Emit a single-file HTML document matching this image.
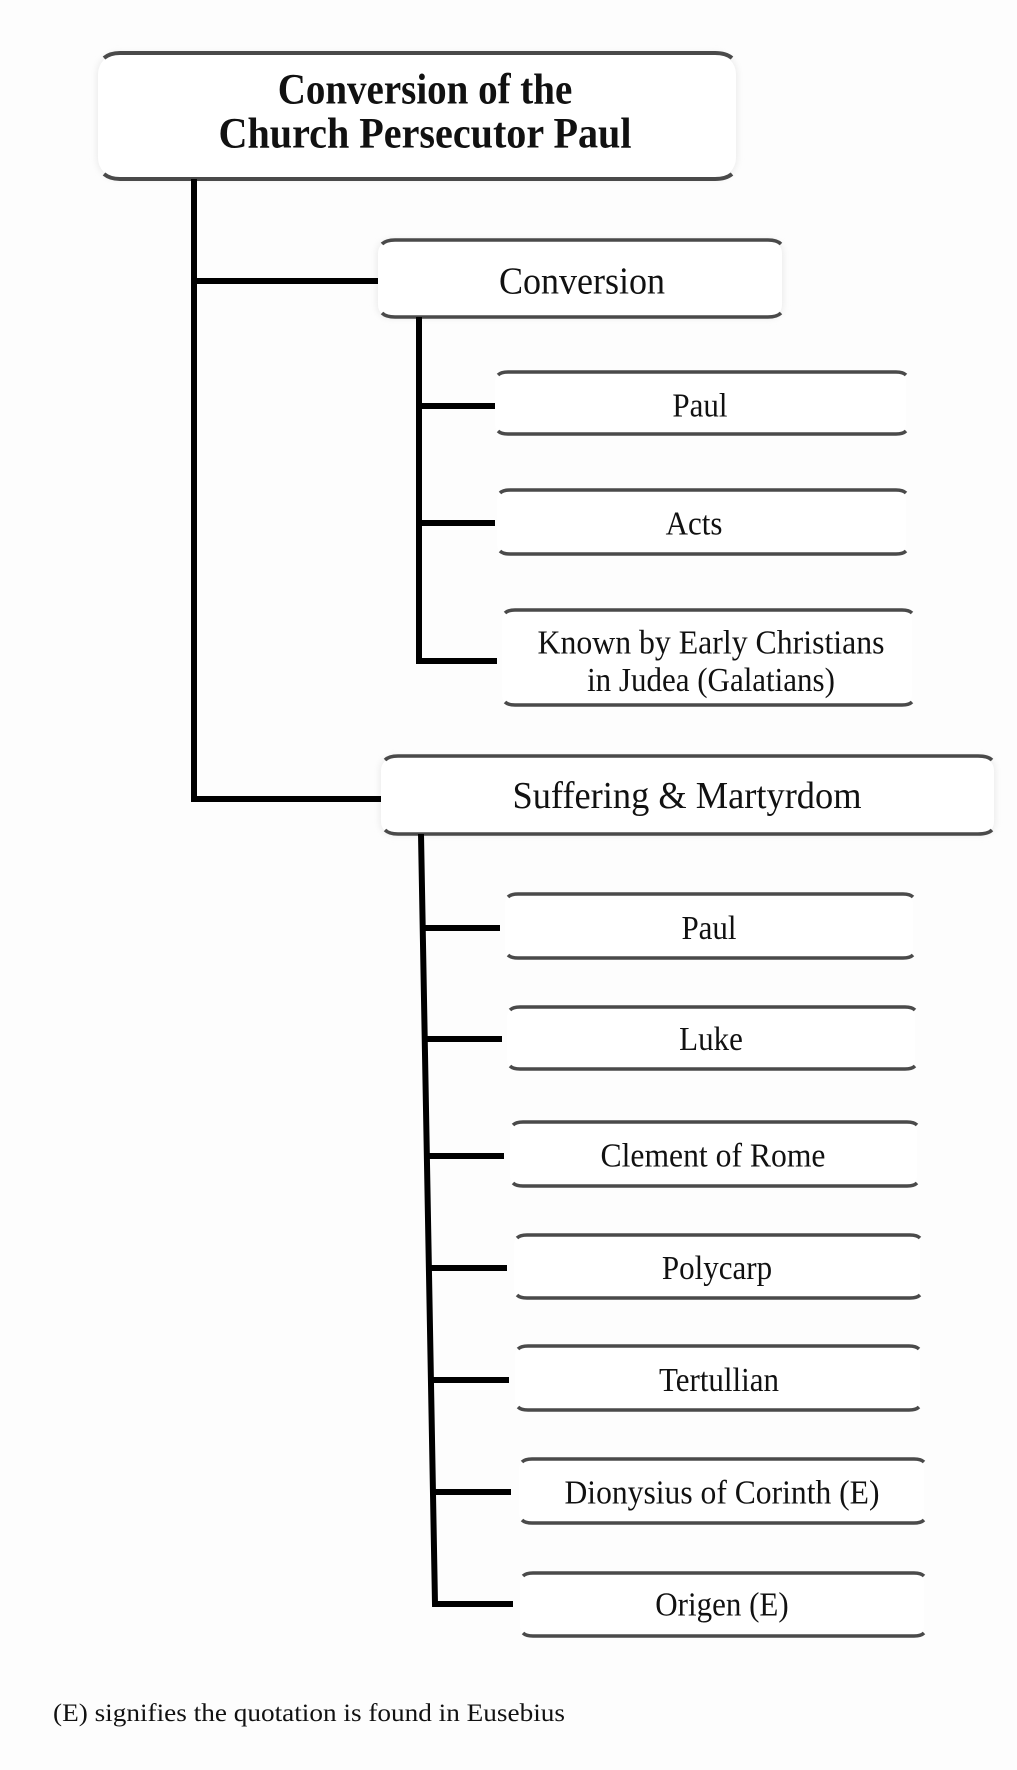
<!DOCTYPE html>
<html><head><meta charset="utf-8"><style>
html,body{margin:0;padding:0;background:#fdfdfd;}
svg{display:block;}
text{font-family:"Liberation Serif",serif;fill:#111;}
</style></head><body>
<svg width="1017" height="1770" viewBox="0 0 1017 1770" xmlns="http://www.w3.org/2000/svg">
<defs>
<filter id="b" x="-5%" y="-30%" width="110%" height="160%"><feGaussianBlur stdDeviation="3"/></filter>
</defs>
<rect width="1017" height="1770" fill="#fdfdfd"/>
<g id="boxes">
<!-- title -->
<rect x="96" y="52" width="642" height="128" rx="22" fill="#eee" filter="url(#b)"/>
<rect x="98" y="54" width="638" height="124" rx="20" fill="#fff"/>
<path d="M104 58 Q110 53 120 53 L715 53 Q726 53 732 58" stroke="#4a4a4a" stroke-width="4" fill="none"/>
<path d="M104 174 Q110 179 120 179 L715 179 Q726 179 732 174" stroke="#4a4a4a" stroke-width="4" fill="none"/>
<!-- conversion -->
<rect x="376" y="239" width="408" height="80" rx="14" fill="#eee" filter="url(#b)"/>
<rect x="378" y="241" width="404" height="76" rx="12" fill="#fff"/>
<path d="M382 244 Q386 240 395 240 L768 240 Q777 240 781 244" stroke="#4a4a4a" stroke-width="3.5" fill="none"/>
<path d="M382 313 Q386 317 395 317 L768 317 Q777 317 781 313" stroke="#4a4a4a" stroke-width="3.5" fill="none"/>
<!-- suffering -->
<rect x="379" y="756" width="617" height="80" rx="14" fill="#eee" filter="url(#b)"/>
<rect x="381" y="758" width="613" height="76" rx="12" fill="#fff"/>
<path d="M385 760 Q389 756 398 756 L978 756 Q988 756 992 760" stroke="#4a4a4a" stroke-width="3.5" fill="none"/>
<path d="M385 830 Q389 834 398 834 L978 834 Q988 834 992 830" stroke="#4a4a4a" stroke-width="3.5" fill="none"/>
</g>
<g stroke="#4a4a4a" stroke-width="3.5" fill="none">
<!-- child boxes: x1,x2,top,bottom -->
<rect x="495" y="372" width="411" height="62" rx="10" fill="#fff" stroke="none"/>
<path d="M498 375 Q501 372 508 372 L896 372 Q903 372 906 375"/><path d="M498 431 Q501 434 508 434 L896 434 Q903 434 906 431"/>
<rect x="497" y="490" width="409" height="64" rx="10" fill="#fff" stroke="none"/>
<path d="M500 493 Q503 490 510 490 L896 490 Q903 490 906 493"/><path d="M500 551 Q503 554 510 554 L896 554 Q903 554 906 551"/>
<rect x="502" y="610" width="410" height="95" rx="10" fill="#fff" stroke="none"/>
<path d="M505 613 Q508 610 515 610 L902 610 Q909 610 912 613"/><path d="M505 702 Q508 705 515 705 L902 705 Q909 705 912 702"/>

<rect x="505" y="894" width="408" height="64" rx="10" fill="#fff" stroke="none"/>
<path d="M508 897 Q511 894 518 894 L903 894 Q910 894 913 897"/><path d="M508 955 Q511 958 518 958 L903 958 Q910 958 913 955"/>
<rect x="507" y="1007" width="408" height="62" rx="10" fill="#fff" stroke="none"/>
<path d="M510 1010 Q513 1007 520 1007 L905 1007 Q912 1007 915 1010"/><path d="M510 1066 Q513 1069 520 1069 L905 1069 Q912 1069 915 1066"/>
<rect x="510" y="1122" width="407" height="64" rx="10" fill="#fff" stroke="none"/>
<path d="M513 1125 Q516 1122 523 1122 L907 1122 Q914 1122 917 1125"/><path d="M513 1183 Q516 1186 523 1186 L907 1186 Q914 1186 917 1183"/>
<rect x="514" y="1235" width="406" height="63" rx="10" fill="#fff" stroke="none"/>
<path d="M517 1238 Q520 1235 527 1235 L910 1235 Q917 1235 920 1238"/><path d="M517 1295 Q520 1298 527 1298 L910 1298 Q917 1298 920 1295"/>
<rect x="515" y="1346" width="405" height="64" rx="10" fill="#fff" stroke="none"/>
<path d="M518 1349 Q521 1346 528 1346 L909 1346 Q916 1346 919 1349"/><path d="M518 1407 Q521 1410 528 1410 L909 1410 Q916 1410 919 1407"/>
<rect x="519" y="1459" width="405" height="64" rx="10" fill="#fff" stroke="none"/>
<path d="M522 1462 Q525 1459 532 1459 L914 1459 Q921 1459 924 1462"/><path d="M522 1520 Q525 1523 532 1523 L914 1523 Q921 1523 924 1520"/>
<rect x="520" y="1573" width="404" height="63" rx="10" fill="#fff" stroke="none"/>
<path d="M523 1576 Q526 1573 533 1573 L914 1573 Q921 1573 924 1576"/><path d="M523 1633 Q526 1636 533 1636 L914 1636 Q921 1636 924 1633"/>
</g>
<!-- connectors -->
<g stroke="#000" stroke-width="6" fill="none">
<path d="M194 179 L194 799 L381 799"/>
<path d="M194 281 L378 281"/>
<path d="M419 317 L419 661 L497 661"/>
<path d="M419 406 L495 406"/>
<path d="M419 523 L495 523"/>
<path d="M421 834 L435 1604 L513 1604"/>
<path d="M423 928 L500 928"/>
<path d="M425 1039 L502 1039"/>
<path d="M427 1156 L504 1156"/>
<path d="M429 1268 L507 1268"/>
<path d="M431 1380 L509 1380"/>
<path d="M433 1492 L511 1492"/>
</g>
<g text-anchor="middle">
<text x="425" y="103" font-size="39" font-weight="bold" transform="translate(0,-10) scale(1,1.1)">Conversion of the</text>
<text x="425" y="147" font-size="39" font-weight="bold" transform="translate(0,-14) scale(1,1.1)" textLength="413" lengthAdjust="spacingAndGlyphs">Church Persecutor Paul</text>
<text x="582" y="293" font-size="35" transform="translate(0,-29) scale(1,1.1)" textLength="166" lengthAdjust="spacingAndGlyphs">Conversion</text>
<text x="687" y="808" font-size="35" transform="translate(0,-81) scale(1,1.1)" textLength="349" lengthAdjust="spacingAndGlyphs">Suffering &amp; Martyrdom</text>
<g font-size="31">
<text x="700" y="417" transform="translate(0,-42) scale(1,1.1)">Paul</text>
<text x="694" y="534" transform="translate(0,-53) scale(1,1.1)">Acts</text>
<text x="711" y="653" transform="translate(0,-65) scale(1,1.1)" textLength="347" lengthAdjust="spacingAndGlyphs">Known by Early Christians</text>
<text x="711" y="691" transform="translate(0,-69) scale(1,1.1)">in Judea (Galatians)</text>
<text x="709" y="939" transform="translate(0,-94) scale(1,1.1)">Paul</text>
<text x="711" y="1050" transform="translate(0,-105) scale(1,1.1)">Luke</text>
<text x="713" y="1167" transform="translate(0,-117) scale(1,1.1)" textLength="225" lengthAdjust="spacingAndGlyphs">Clement of Rome</text>
<text x="717" y="1279" transform="translate(0,-128) scale(1,1.1)">Polycarp</text>
<text x="719" y="1391" transform="translate(0,-139) scale(1,1.1)">Tertullian</text>
<text x="722" y="1503" transform="translate(0,-150) scale(1,1.1)" textLength="315" lengthAdjust="spacingAndGlyphs">Dionysius of Corinth (E)</text>
<text x="722" y="1615" transform="translate(0,-161) scale(1,1.1)">Origen (E)</text>
</g>
</g>
<text x="53" y="1721" font-size="25" textLength="512" lengthAdjust="spacingAndGlyphs">(E) signifies the quotation is found in Eusebius</text>
</svg>
</body></html>
